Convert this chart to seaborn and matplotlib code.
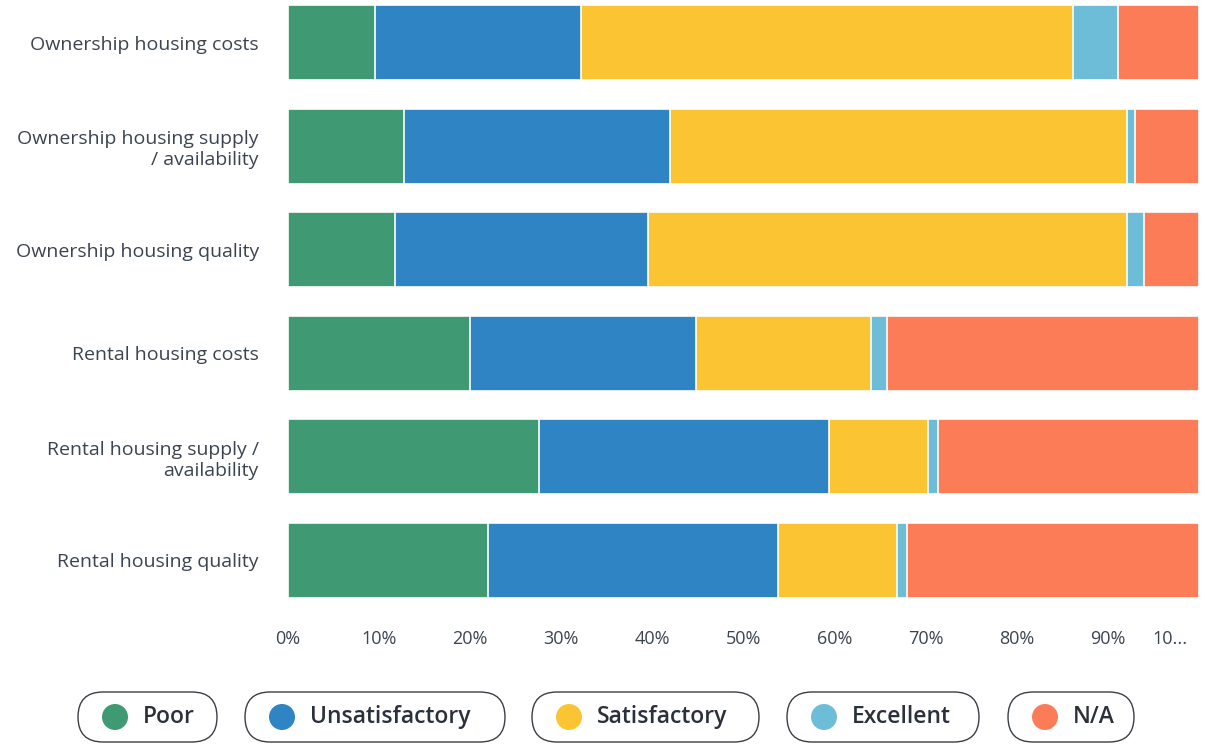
import pandas as pd
import numpy as np
import matplotlib
matplotlib.use("Agg")
import matplotlib.pyplot as plt
import matplotlib.transforms as mtransforms
import seaborn as sns
from matplotlib.patches import FancyBboxPatch, Circle

# data (percent of respondents)
questions = [
    "Ownership housing costs",
    "Ownership housing supply\n/ availability",
    "Ownership housing quality",
    "Rental housing costs",
    "Rental housing supply /\navailability",
    "Rental housing quality",
]
ratings = ["Poor", "Unsatisfactory", "Satisfactory", "Excellent", "N/A"]
poor = [9.6, 12.7, 11.7, 20.0, 27.6, 21.9]
unsatisfactory = [22.6, 29.2, 27.8, 24.8, 31.8, 31.9]
satisfactory = [54.0, 50.2, 52.6, 19.2, 10.9, 13.0]
excellent = [4.9, 0.9, 1.9, 1.8, 1.0, 1.1]
not_applicable = [8.9, 7.0, 6.0, 34.2, 28.7, 32.1]
x_ticks = [0, 10, 20, 30, 40, 50, 60, 70, 80, 90, 100]
x_tick_labels = ["0%", "10%", "20%", "30%", "40%", "50%", "60%", "70%", "80%", "90%", "10..."]

colors = ["#3f9a74", "#2f84c3", "#fbc433", "#6dbdd9", "#fb7c57"]
text_color = "#3b4450"

df = pd.DataFrame({
    "question": questions,
    "Poor": poor,
    "Unsatisfactory": unsatisfactory,
    "Satisfactory": satisfactory,
    "Excellent": excellent,
    "N/A": not_applicable,
})
cum = df[ratings].cumsum(axis=1)
cum["question"] = df["question"]

sns.set_theme(style="white")
plt.rcParams["font.family"] = ["Open Sans", "DejaVu Sans"]

fig = plt.figure(figsize=(12.05, 7.45), dpi=100)
ax = fig.add_axes([288 / 1205, 1 - 612 / 745, (1199 - 288) / 1205, 612 / 745])

# stacked bars: draw cumulative totals from the largest down
for rating, color in reversed(list(zip(ratings, colors))):
    sns.barplot(data=cum, x=rating, y="question", orient="h", color=color,
                saturation=1, width=0.72, edgecolor="white", linewidth=1.2, ax=ax)

ax.set_xlim(0, 100)
ax.set_ylim(5.5, -0.413)
ax.set_xticks(x_ticks)
ax.set_xticklabels(x_tick_labels)
ax.set_xlabel("")
ax.set_ylabel("")
ax.tick_params(axis="x", length=0, pad=13, labelsize=13, labelcolor=text_color)
ax.tick_params(axis="y", length=0, pad=21, labelsize=14, labelcolor=text_color)
sns.despine(ax=ax, left=True, bottom=True)

# the last tick label is truncated and sits left of the axis end
last = ax.get_xticklabels()[-1]
last.set_horizontalalignment("right")
last.set_transform(last.get_transform() + mtransforms.ScaledTranslation(-0.11, 0, fig.dpi_scale_trans))

# pill-shaped legend items (positions in pixels)
pills = [(78, 139), (245, 260), (532, 227), (787, 192), (1008, 126)]
tr = fig.dpi_scale_trans
for (px, pw), label, color in zip(pills, ratings, colors):
    box = FancyBboxPatch((px / 100, 0.03), pw / 100, 0.5,
                         boxstyle="round,pad=0,rounding_size=0.25",
                         transform=tr, facecolor="white", edgecolor="#3a3f46",
                         linewidth=1.0)
    fig.add_artist(box)
    fig.add_artist(Circle(((px + 37) / 100, 0.28), 0.13, transform=tr,
                          facecolor=color, edgecolor="none"))
    fig.text((px + 65) / 100, 0.28, label, transform=tr, ha="left", va="center",
             fontsize=16.5, color="#2a313a", fontweight="semibold")

fig.savefig("out.png", dpi=100, facecolor="white")
